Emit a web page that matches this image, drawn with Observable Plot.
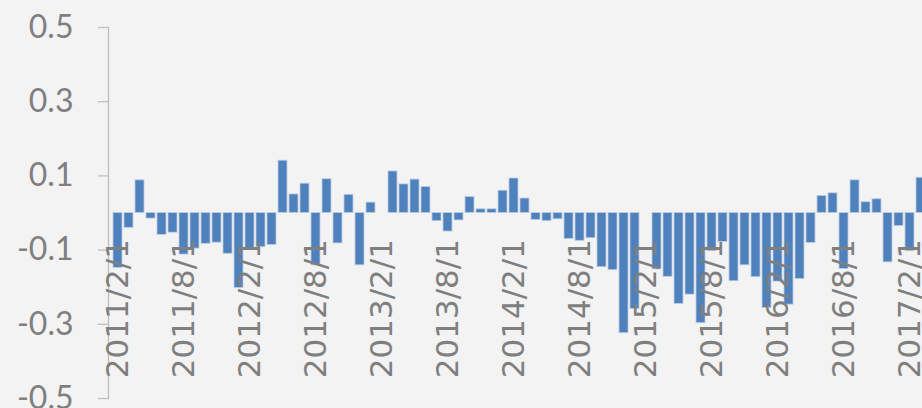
<!DOCTYPE html>
<html>
<head>
<meta charset="utf-8">
<script src="https://cdn.jsdelivr.net/npm/d3@7"></script>
<script src="https://cdn.jsdelivr.net/npm/@observablehq/plot@0.6"></script>
<style>
  html, body { margin: 0; padding: 0; background: #f3f3f3; overflow: hidden; }
  #chart svg { display: block; }
</style>
</head>
<body>
<div id="chart"></div>
<script>
// Monthly categories: 2011/2/1 through 2017/3/1
const firstMonth = new Date(Date.UTC(2011, 1, 1));
const lastMonth = new Date(Date.UTC(2017, 2, 1));
const months = d3.utcMonth.range(firstMonth, d3.utcMonth.offset(lastMonth, 1))
  .map(d => `${d.getUTCFullYear()}/${d.getUTCMonth() + 1}/1`);

// Series values, one per month
const values = [
  // 2011 Feb-Dec
  -0.148, -0.040, 0.088, -0.015, -0.059, -0.053, -0.112, -0.096, -0.083, -0.080, -0.110,
  // 2012
  -0.202, -0.096, -0.092, -0.086, 0.141, 0.050, 0.079, -0.141, 0.091, -0.082, 0.049, -0.141,
  // 2013
  0.028, 0, 0.112, 0.077, 0.090, 0.070, -0.022, -0.050, -0.020, 0.043, 0.010, 0.010,
  // 2014
  0.060, 0.093, 0.039, -0.019, -0.022, -0.017, -0.070, -0.075, -0.068, -0.146, -0.154, -0.324,
  // 2015
  -0.259, 0, -0.152, -0.172, -0.245, -0.220, -0.297, -0.103, -0.078, -0.184, -0.141, -0.173,
  // 2016
  -0.256, -0.185, -0.247, -0.178, -0.081, 0.046, 0.053, -0.151, 0.088, 0.029, 0.037, -0.133,
  // 2017 Jan-Mar
  -0.035, -0.103, 0.095
];

const xTickLabels = [
  "2011/2/1", "2011/8/1", "2012/2/1", "2012/8/1", "2013/2/1", "2013/8/1", "2014/2/1",
  "2014/8/1", "2015/2/1", "2015/8/1", "2016/2/1", "2016/8/1", "2017/2/1"
];
const yTicks = [-0.5, -0.3, -0.1, 0.1, 0.3, 0.5];

const data = months.map((m, i) => ({month: m, value: values[i]}));

const chart = Plot.plot({
  width: 922,
  height: 408,
  marginLeft: 108,
  marginRight: 0,
  marginTop: 27,
  marginBottom: 10,
  style: {background: "#f3f3f3", fontFamily: "Lato, 'Open Sans', sans-serif", overflow: "hidden"},
  x: {type: "band", domain: months, range: [107.8, 929.2], padding: 0.2, axis: null},
  y: {domain: [-0.5, 0.5], axis: null},
  marks: [
    Plot.barY(data, {x: "month", y: "value", fill: "#4f81bd", stroke: "#bccde4", strokeWidth: 0.8}),
    Plot.frame({anchor: "left", stroke: "#bfbfbf", strokeWidth: 1.3}),
    Plot.axisY({
      ticks: yTicks,
      tickFormat: d => d.toFixed(1),
      tickSize: 10,
      tickPadding: 25,
      fontSize: 32,
      stroke: "#bfbfbf",
      strokeWidth: 1.3,
      fill: "#7f7f7f",
      label: null
    }),
    Plot.text(xTickLabels, {
      x: d => d,
      y: () => 0,
      rotate: -90,
      textAnchor: "end",
      dy: 26,
      fontSize: 31,
      fontFamily: "'DejaVu Sans', sans-serif",
      fill: "#7f7f7f"
    })
  ]
});

document.getElementById("chart").appendChild(chart);
</script>
</body>
</html>
